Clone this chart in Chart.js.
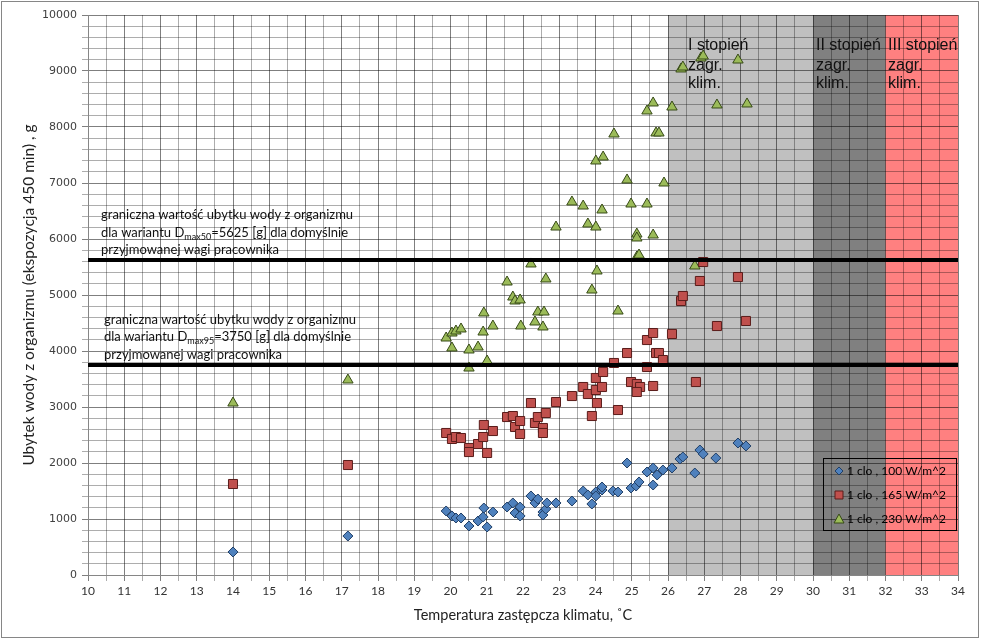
<!DOCTYPE html>
<html><head><meta charset="utf-8">
<script src="https://cdn.jsdelivr.net/npm/chart.js@4.4.0/dist/chart.umd.min.js"></script>
<style>html,body{margin:0;padding:0;background:#fff;}#wrap{width:981px;height:642px;}</style>
</head><body><div id="wrap"><canvas id="c" width="981" height="642"></canvas></div>
<script>
// 1 clo , 100 W/m^2
const temp100 = [14.0,17.17,19.88,20.04,20.15,20.29,20.51,20.76,20.9,20.92,21.01,21.17,21.56,21.72,21.78,21.92,21.92,22.22,22.33,22.41,22.55,22.55,22.63,22.66,22.91,23.35,23.66,23.79,23.9,24.01,24.01,24.18,24.18,24.48,24.62,24.87,24.98,25.12,25.2,25.42,25.59,25.59,25.7,25.86,26.11,26.33,26.41,26.74,26.88,26.97,27.32,27.93,28.15];
const loss100 = [411,696,1143,1054,1018,1018,875,964,1036,1196,857,1125,1214,1286,1107,1214,1054,1411,1286,1357,1125,1071,1179,1286,1286,1321,1500,1429,1268,1482,1411,1518,1571,1500,1482,2000,1554,1589,1661,1839,1911,1607,1786,1875,1911,2071,2107,1821,2232,2161,2089,2357,2304];
// 1 clo , 165 W/m^2
const temp165 = [14.0,17.17,19.88,20.04,20.15,20.29,20.51,20.51,20.76,20.9,20.92,21.01,21.17,21.56,21.72,21.78,21.92,21.92,22.22,22.33,22.41,22.55,22.55,22.63,22.91,23.35,23.66,23.79,23.9,24.01,24.01,24.04,24.18,24.21,24.51,24.62,24.87,24.98,25.14,25.23,25.14,25.42,25.42,25.59,25.59,25.67,25.75,25.86,26.11,26.36,26.41,26.77,26.88,26.97,27.35,27.93,28.15];
const loss165 = [1625,1964,2536,2429,2464,2446,2268,2196,2339,2464,2679,2179,2571,2821,2839,2643,2750,2518,3071,2714,2821,2625,2536,2893,3089,3196,3357,3232,2839,3304,3518,3071,3357,3625,3786,2946,3964,3446,3411,3357,3268,3714,4196,4321,3375,3964,3964,3839,4304,4893,4982,3446,5250,5589,4446,5321,4536];
// 1 clo , 230 W/m^2
const temp230 = [14.0,17.17,19.88,20.04,20.04,20.15,20.29,20.51,20.51,20.76,20.9,20.92,21.01,21.17,21.56,21.72,21.78,21.92,21.94,22.22,22.33,22.41,22.55,22.58,22.63,22.91,23.35,23.66,23.79,23.9,24.01,24.01,24.04,24.18,24.21,24.51,24.62,24.87,24.98,25.14,25.14,25.14,25.2,25.42,25.42,25.59,25.59,25.67,25.75,25.89,26.11,26.36,26.41,26.74,26.91,26.97,27.35,27.93,28.18];
const loss230 = [3071,3482,4232,4321,4054,4357,4393,4018,3696,4071,4339,4679,3821,4446,5232,4964,4893,4911,4446,5554,4518,4696,4429,4696,5286,6214,6661,6589,6268,5089,6214,7393,5429,6518,7464,7875,4714,7054,6625,6089,6018,5679,5714,6625,8286,8429,6071,7893,7893,7000,8357,9036,9071,5518,9232,9268,8393,9196,8411];

const seriesLabels = ['1 clo , 100 W/m^2','1 clo , 165 W/m^2','1 clo , 230 W/m^2'];
const limitValues = [5625, 3750];
const limitSub = ['max50','max95'];
const zoneBounds = [26, 30, 32, 34];
const zoneNames = ['I stopień','II stopień','III stopień'];
const xRange = [10, 34];
const yRange = [0, 10000];

function pts(xs, ys){ return xs.map((x,i)=>({x:x, y:ys[i]})); }

const zoneColors = ['#C0C0C0','#808080','#FF8080'];

const bgPlugin = {
  id:'bg',
  beforeDraw(chart){
    const {ctx, chartArea:a, scales:{x,y}} = chart;
    ctx.save();
    ctx.fillStyle='#fff'; ctx.fillRect(0,0,chart.width,chart.height);
    for(let i=0;i<3;i++){
      const x0=x.getPixelForValue(zoneBounds[i]), x1=x.getPixelForValue(zoneBounds[i+1]);
      ctx.fillStyle=zoneColors[i];
      ctx.fillRect(x0,a.top,x1-x0,a.bottom-a.top);
    }
    ctx.restore();
  },
  afterDatasetsDraw(chart){
    const {ctx, scales:{x,y}} = chart;
    ctx.save();
    ctx.fillStyle='#111';
    ctx.textBaseline='middle';
    // zone labels
    ctx.font='16px "Liberation Sans", Arial, sans-serif';
    const zx=[688,816,888];
    for(let i=0;i<3;i++){
      ctx.fillText(zoneNames[i], zx[i], 46);
      ctx.fillText('zagr.', zx[i], 66);
      ctx.fillText('klim.', zx[i], 84);
    }
    // limit annotations
    const blocks=[{x:101,y:[215,233,250]},{x:104,y:[320,337,355]}];
    blocks.forEach((b,i)=>{
      ctx.font='13px Lato, sans-serif';
      ctx.fillText('graniczna wartość ubytku wody z organizmu', b.x, b.y[0]);
      let cx=b.x;
      const s1='dla wariantu D';
      ctx.fillText(s1, cx, b.y[1]); cx+=ctx.measureText(s1).width;
      ctx.font='9px Lato, sans-serif';
      ctx.fillText(limitSub[i], cx, b.y[1]+4); cx+=ctx.measureText(limitSub[i]).width;
      ctx.font='13px Lato, sans-serif';
      ctx.fillText('='+limitValues[i]+' [g] dla domyślnie', cx, b.y[1]);
      ctx.fillText('przyjmowanej wagi pracownika', b.x, b.y[2]);
    });
    ctx.restore();
  },
  afterDraw(chart){
    const ctx=chart.ctx;
    ctx.save();
    // legend box
    ctx.strokeStyle='#000'; ctx.lineWidth=1;
    ctx.strokeRect(823.5,458.5,133,72);
    const ds=chart.data.datasets.filter(d=>d.type==='scatter');
    const ys=[471,495,519];
    ds.forEach((d,i)=>{
      const mx=839, my=ys[i];
      ctx.fillStyle=d.backgroundColor; ctx.strokeStyle=d.borderColor; ctx.lineWidth=1;
      ctx.beginPath();
      if(d.pointStyle==='rectRot'){ ctx.moveTo(mx,my-4); ctx.lineTo(mx+4,my); ctx.lineTo(mx,my+4); ctx.lineTo(mx-4,my); ctx.closePath(); }
      else if(d.pointStyle==='rect'){ ctx.rect(mx-4,my-4,8,8); }
      else { ctx.moveTo(mx,my-5); ctx.lineTo(mx+5,my+4); ctx.lineTo(mx-5,my+4); ctx.closePath(); }
      ctx.fill(); ctx.stroke();
      ctx.fillStyle='#000'; ctx.font='12px Lato, sans-serif'; ctx.textBaseline='middle';
      ctx.fillText(d.label, 847, my);
    });
    // chart border
    ctx.strokeStyle='#868686'; ctx.lineWidth=1;
    ctx.strokeRect(1.5,1.5,977,636);
    ctx.restore();
  }
};

const chart = new Chart(document.getElementById('c'), {
  data:{
    datasets:[
      {type:'line', label:'lim1', data:[{x:xRange[0],y:limitValues[0]},{x:xRange[1],y:limitValues[0]}], borderColor:'#000', borderWidth:4, pointRadius:0, order:0},
      {type:'line', label:'lim2', data:[{x:xRange[0],y:limitValues[1]},{x:xRange[1],y:limitValues[1]}], borderColor:'#000', borderWidth:4, pointRadius:0, order:0},
      {type:'scatter', label:seriesLabels[0], data:pts(temp100,loss100), pointStyle:'rectRot', radius:5, backgroundColor:'#4F81BD', borderColor:'#213F66', borderWidth:1, order:1},
      {type:'scatter', label:seriesLabels[1], data:pts(temp165,loss165), pointStyle:'rect', radius:6.4, backgroundColor:'#C0504D', borderColor:'#5A1C1A', borderWidth:1, order:1},
      {type:'scatter', label:seriesLabels[2], data:pts(temp230,loss230), pointStyle:'triangle', radius:6, backgroundColor:'#9BBB59', borderColor:'#374A17', borderWidth:1, order:1}
    ]
  },
  options:{
    responsive:false, animation:false,
    layout:{padding:{left:0,right:23,top:15,bottom:0}},
    plugins:{legend:{display:false}, tooltip:{enabled:false}},
    scales:{
      x:{type:'linear', min:xRange[0], max:xRange[1],
        ticks:{stepSize:0.5, autoSkip:false, maxRotation:0, padding:3, color:'#333', font:{family:'Lato', size:12},
          callback:(v)=>Number.isInteger(v)?String(v):''},
        grid:{color:(c)=>c.tick&&Number.isInteger(c.tick.value)?'rgba(0,0,0,0.5)':'rgba(0,0,0,0.32)', tickLength:6},
        border:{color:'#868686'},
        title:{display:true, text:'Temperatura zastępcza klimatu, ˚C', color:'#222', font:{family:'Lato', size:14.5}, padding:{top:0,bottom:18}},
        afterFit:(s)=>{s.height=67;}
      },
      y:{type:'linear', min:yRange[0], max:yRange[1],
        ticks:{stepSize:200, autoSkip:false, padding:5, color:'#404040', font:{family:'DejaVu Sans', size:11},
          callback:(v)=>v%1000===0?String(v):''},
        grid:{color:(c)=>c.tick&&c.tick.value%1000===0?'rgba(0,0,0,0.5)':'rgba(0,0,0,0.32)', tickLength:6},
        border:{color:'#868686'},
        title:{display:true, text:'Ubytek wody z organizmu (ekspozycja 450 min) , g', color:'#222', font:{family:'Lato', size:15.5}, padding:{top:20,bottom:0}},
        afterFit:(s)=>{s.width=88;}
      }
    }
  },
  plugins:[bgPlugin]
});
</script></body></html>
